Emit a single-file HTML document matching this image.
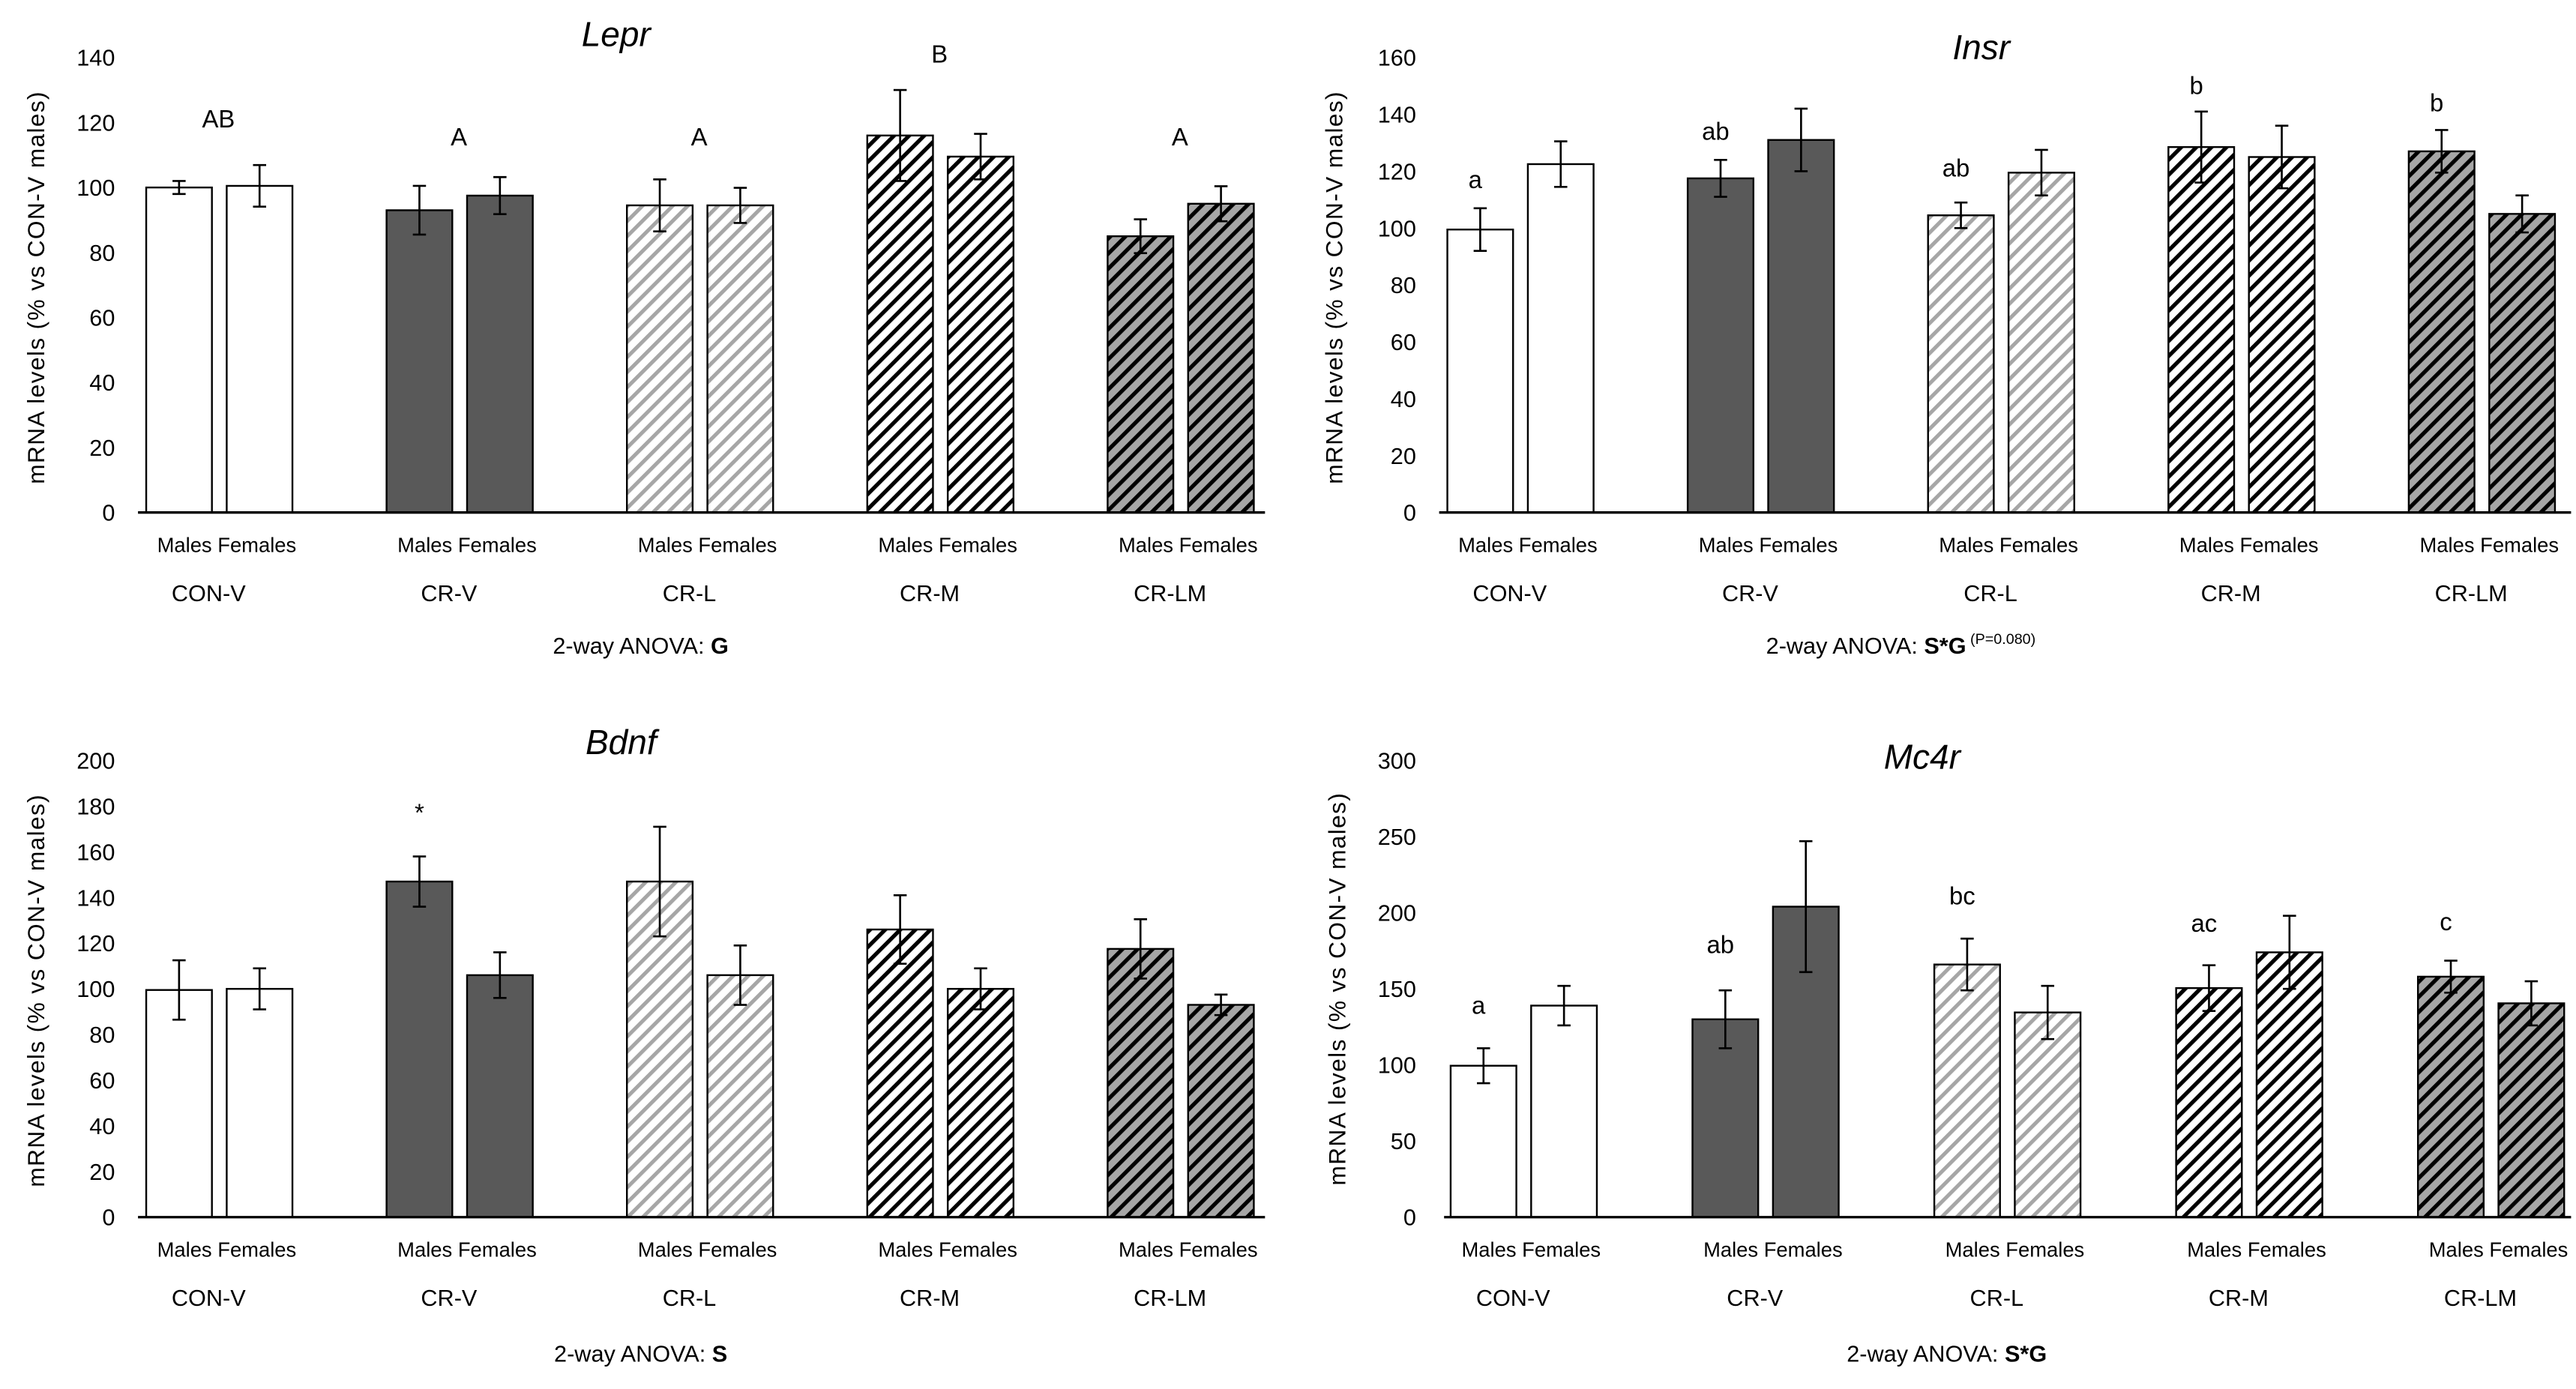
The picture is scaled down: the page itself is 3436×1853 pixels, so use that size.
<!DOCTYPE html>
<html><head><meta charset="utf-8">
<style>
html,body{margin:0;padding:0;background:#fff;}
svg{display:block;}
text{font-family:"Liberation Sans",sans-serif;fill:#000;}
</style></head>
<body>
<svg id="fig" width="3436" height="1853" viewBox="0 0 1568 845.6" preserveAspectRatio="none" xmlns="http://www.w3.org/2000/svg">
<defs>
<pattern id="pL" patternUnits="userSpaceOnUse" width="6.5" height="6.5" patternTransform="rotate(45)">
<rect width="6.5" height="6.5" fill="#fff"/><rect x="0" width="2.3" height="6.5" fill="#a6a6a6"/></pattern>
<pattern id="pM" patternUnits="userSpaceOnUse" width="6.5" height="6.5" patternTransform="rotate(45)">
<rect width="6.5" height="6.5" fill="#fff"/><rect x="0" width="2.4" height="6.5" fill="#000"/></pattern>
<pattern id="pLM" patternUnits="userSpaceOnUse" width="6.5" height="6.5" patternTransform="rotate(45)">
<rect width="6.5" height="6.5" fill="#a6a6a6"/><rect x="0" width="2.4" height="6.5" fill="#000"/></pattern>
</defs>
</svg>
<script>
const groups = ["CON-V","CR-V","CR-L","CR-M","CR-LM"];
const fills = ["#ffffff","#595959","url(#pL)","url(#pM)","url(#pLM)"];

const leprMales = [100, 93, 94.5, 116, 85];
const leprFemales = [100.5, 97.5, 94.5, 109.5, 95];
const leprErrM = [2, 7.5, 8, 14, 5.2];
const leprErrF = [6.4, 5.7, 5.4, 7, 5.4];
const leprLetters = ["AB","A","A","B","A"];
const leprLetterVals = [121, 115.5, 115.5, 141, 115.5];
const leprTicks = [0,20,40,60,80,100,120,140];

const insrMales = [99.5, 117.5, 104.5, 128.5, 127];
const insrFemales = [122.5, 131, 119.5, 125, 105];
const insrErrM = [7.5, 6.5, 4.5, 12.5, 7.5];
const insrErrF = [8, 11, 8, 11, 6.5];
const insrLetters = ["a","ab","ab","b","b"];
const insrLetterVals = [117, 134, 121, 150, 144];
const insrTicks = [0,20,40,60,80,100,120,140,160];

const bdnfMales = [99.5, 147, 147, 126, 117.5];
const bdnfFemales = [100, 106, 106, 100, 93];
const bdnfErrM = [13, 11, 24, 15, 13];
const bdnfErrF = [9, 10, 13, 9, 4.5];
const bdnfLetters = ["","*","","",""];
const bdnfLetterVals = [0, 177, 0, 0, 0];
const bdnfTicks = [0,20,40,60,80,100,120,140,160,180,200];

const mc4rMales = [99.5, 130, 166, 150.5, 158];
const mc4rFemales = [139, 204, 134.5, 174, 140.5];
const mc4rErrM = [11.5, 19, 17, 15, 10.5];
const mc4rErrF = [13, 43, 17.5, 24, 14.5];
const mc4rLetters = ["a","ab","bc","ac","c"];
const mc4rLetterVals = [139, 179, 211, 193, 194];
const mc4rTicks = [0,50,100,150,200,250,300];

const NS="http://www.w3.org/2000/svg";
const svg=document.getElementById('fig');
function el(tag,attrs,parent,txt){const e=document.createElementNS(NS,tag);for(const k in attrs)e.setAttribute(k,attrs[k]);if(txt!==undefined)e.textContent=txt;(parent||svg).appendChild(e);return e;}

function panel(cfg){
  const g=el('g',{});
  
  
  const maxV=cfg.ticks[cfg.ticks.length-1];
  const y=v=>cfg.y0-(v/maxV)*(cfg.y0-cfg.yTop);
  const t=el('text',{x:cfg.titleX,y:cfg.titleY,'font-size':21,'font-style':'italic','text-anchor':'middle'},g,cfg.title);
  
  
  cfg.ticks.forEach(v=>{
    const tl=el('text',{x:cfg.tickX,y:y(v)+5,'font-size':14,'text-anchor':'end'},g,String(v));
    
    
  });
  const yt=el('text',{x:0,y:0,'font-size':14.5,'text-anchor':'middle','letter-spacing':'0.6',transform:`translate(${cfg.yTitleX},${cfg.yTitleY}) rotate(-90)`},g,'mRNA levels (% vs CON-V males)');
  
  
  for(let i=0;i<groups.length;i++){
    const bx=cfg.firstX+i*cfg.spacing;
    const vals=[cfg.m[i],cfg.f[i]], errs=[cfg.em[i],cfg.ef[i]];
    for(let s=0;s<2;s++){
      const x=bx+s*49, w=40, top=y(vals[s]);
      const r=el('rect',{x:x,y:top,width:w,height:cfg.y0-top,fill:fills[i],stroke:'#000','stroke-width':1.1},g);
      
      
      const cx=x+w/2, eT=y(vals[s]+errs[s]), eB=y(vals[s]-errs[s]);
      const eb=el('path',{d:`M${cx},${eT}V${eB}M${cx-4},${eT}H${cx+4}M${cx-4},${eB}H${cx+4}`,stroke:'#000','stroke-width':1.2,fill:'none'},g);
      
      
    }
    if(cfg.letters[i]){
      const lt=el('text',{x:bx+20+cfg.letterOff,y:y(cfg.lv[i])+5,'font-size':15,'text-anchor':'middle'},g,cfg.letters[i]);
      
      
    }
    const sx=el('text',{x:bx+49,y:cfg.y0+24,'font-size':12.5,'text-anchor':'middle'},g,'Males Females');
    
    
    const gl=el('text',{x:bx+38,y:cfg.y0+54,'font-size':14,'text-anchor':'middle'},g,groups[i]);
    
    
  }
  const ax=el('line',{x1:cfg.axL,x2:cfg.axR,y1:cfg.y0,y2:cfg.y0,stroke:'#000','stroke-width':1.5},g);
  
  
  const an=el('text',{x:cfg.anX,y:cfg.anY,'font-size':14,'text-anchor':cfg.anAnchor},g);
  
  
  el('tspan',{},an,'2-way ANOVA: ');
  el('tspan',{'font-weight':'bold'},an,cfg.anova);
  if(cfg.anSup) el('tspan',{'font-size':9,dy:-6},an,' '+cfg.anSup);
}

panel({name:'lepr',title:'Lepr',titleX:375,titleY:28,y0:312,yTop:35,ticks:leprTicks,tickX:70,yTitleX:27,yTitleY:175,
  firstX:89,spacing:146.3,m:leprMales,f:leprFemales,em:leprErrM,ef:leprErrF,letters:leprLetters,lv:leprLetterVals,letterOff:24,
  axL:84,axR:770,anX:390,anY:398,anAnchor:'middle',anova:'G'});
panel({name:'insr',title:'Insr',titleX:1206,titleY:36,y0:312,yTop:35,ticks:insrTicks,tickX:862,yTitleX:817,yTitleY:175,
  firstX:881,spacing:146.3,m:insrMales,f:insrFemales,em:insrErrM,ef:insrErrF,letters:insrLetters,lv:insrLetterVals,letterOff:-3,
  axL:876,axR:1565,anX:1075,anY:398,anAnchor:'start',anova:'S*G',anSup:'(P=0.080)'});
panel({name:'bdnf',title:'Bdnf',titleX:378,titleY:459,y0:741,yTop:463,ticks:bdnfTicks,tickX:70,yTitleX:27,yTitleY:603,
  firstX:89,spacing:146.3,m:bdnfMales,f:bdnfFemales,em:bdnfErrM,ef:bdnfErrF,letters:bdnfLetters,lv:bdnfLetterVals,letterOff:0,
  axL:84,axR:770,anX:390,anY:829,anAnchor:'middle',anova:'S'});
panel({name:'mc4r',title:'Mc4r',titleX:1170,titleY:468,y0:741,yTop:463,ticks:mc4rTicks,tickX:862,yTitleX:819,yTitleY:602,
  firstX:883,spacing:147.2,m:mc4rMales,f:mc4rFemales,em:mc4rErrM,ef:mc4rErrF,letters:mc4rLetters,lv:mc4rLetterVals,letterOff:-3,
  axL:879,axR:1565,anX:1185,anY:829,anAnchor:'middle',anova:'S*G'});
</script>
</body></html>
